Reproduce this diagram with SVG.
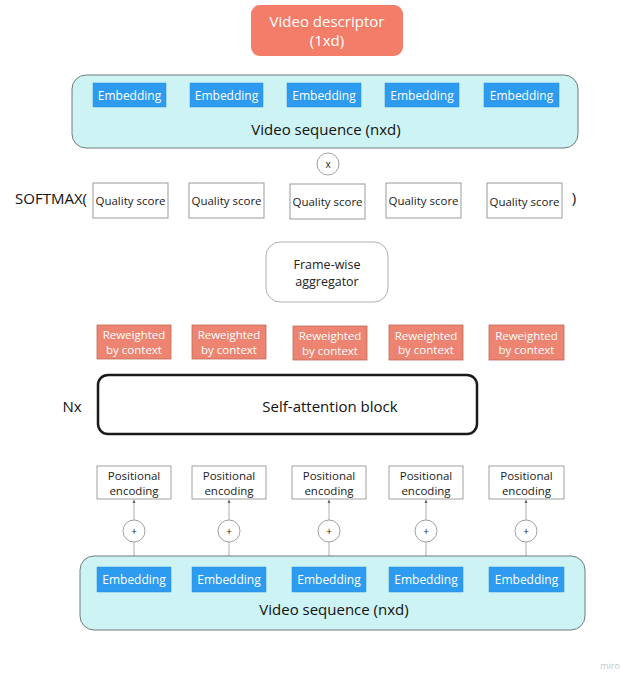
<svg xmlns="http://www.w3.org/2000/svg" width="622" height="673" viewBox="0 0 622 673">
<style>
text{font-family:"Open Sans","Liberation Sans",sans-serif;text-anchor:middle;dominant-baseline:central}
.seq{fill:#cdf3f4;stroke:#6f7a7b;stroke-width:1}
.emb{fill:#2d9bf0;stroke:#2a8fdc;stroke-width:0.5}
.embt{fill:#fff;font-size:12px}
.qs{fill:#fff;stroke:#9a9a9a;stroke-width:1}
.qst{fill:#222;font-size:11.5px}
.rw{fill:#ec8471;stroke:#c46a5b;stroke-width:0.8}
.rwt{fill:#fff;font-size:11.5px}
.pe{fill:#fff;stroke:#8a8a8a;stroke-width:0.8}
.pet{fill:#222;font-size:11.5px}
.op{fill:#fff;stroke:#888;stroke-width:0.8}
.opt{fill:#222;font-size:10px}
.lbl{fill:#111;font-size:15px}
.ln{stroke:#999;stroke-width:0.8;fill:none}
</style>
<defs>
<marker id="ah" viewBox="0 0 6 6" refX="3" refY="1" markerWidth="4" markerHeight="4" orient="auto-start-reverse" markerUnits="userSpaceOnUse">
<path d="M0,6 L3,0 L6,6 z" fill="#777"/>
</marker>
</defs>

<g id="connectors">
<line class="ln" x1="134" y1="556" x2="134" y2="542"/><line class="ln" x1="134" y1="520" x2="134" y2="500"/>
<line class="ln" x1="229" y1="556" x2="229" y2="542"/><line class="ln" x1="229" y1="520" x2="229" y2="500"/>
<line class="ln" x1="329" y1="556" x2="329" y2="542"/><line class="ln" x1="329" y1="520" x2="329" y2="500"/>
<line class="ln" x1="426" y1="556" x2="426" y2="542"/><line class="ln" x1="426" y1="520" x2="426" y2="500"/>
<line class="ln" x1="526" y1="556" x2="526" y2="542"/><line class="ln" x1="526" y1="520" x2="526" y2="500"/>
<path d="M132.5,503 L134,499.5 L135.5,503 z" fill="#666"/>
<path d="M227.5,503 L229,499.5 L230.5,503 z" fill="#666"/>
<path d="M327.5,503 L329,499.5 L330.5,503 z" fill="#666"/>
<path d="M424.5,503 L426,499.5 L427.5,503 z" fill="#666"/>
<path d="M524.5,503 L526,499.5 L527.5,503 z" fill="#666"/>
</g>

<g id="video-descriptor">
<rect x="251" y="5" width="152" height="51" rx="9" fill="#f47d69"/>
<text x="327" y="21" fill="#fff" font-size="15">Video descriptor</text>
<text x="327" y="40" fill="#fff" font-size="15">(1xd)</text>
</g>

<g id="video-sequence-top">
<rect class="seq" x="72" y="75" width="506" height="73" rx="14"/>
<rect class="emb" x="93" y="83" width="73" height="24"/><text class="embt" x="129.5" y="95">Embedding</text>
<rect class="emb" x="190" y="83" width="73" height="24"/><text class="embt" x="226.5" y="95">Embedding</text>
<rect class="emb" x="287" y="83" width="74" height="24"/><text class="embt" x="324" y="95">Embedding</text>
<rect class="emb" x="385" y="83" width="74" height="24"/><text class="embt" x="422" y="95">Embedding</text>
<rect class="emb" x="484" y="83" width="75" height="24"/><text class="embt" x="521.5" y="95">Embedding</text>
<text class="lbl" x="326" y="129">Video sequence (nxd)</text>
</g>

<g id="multiply">
<circle class="op" cx="328" cy="164" r="11"/>
<text class="opt" x="328" y="164">x</text>
</g>

<g id="softmax">
<text class="lbl" x="51" y="198" font-size="16">SOFTMAX(</text>
<text class="lbl" x="574" y="197" font-size="16">)</text>
<rect class="qs" x="93" y="183" width="75" height="35"/><text class="qst" x="130.5" y="200">Quality score</text>
<rect class="qs" x="189" y="183" width="75" height="35"/><text class="qst" x="226.5" y="200">Quality score</text>
<rect class="qs" x="290" y="184" width="75" height="35"/><text class="qst" x="327.5" y="201">Quality score</text>
<rect class="qs" x="386" y="183" width="75" height="35"/><text class="qst" x="423.5" y="200">Quality score</text>
<rect class="qs" x="487" y="183" width="75" height="35"/><text class="qst" x="524.5" y="201">Quality score</text>
</g>

<g id="aggregator">
<rect x="266" y="242" width="122" height="60" rx="14" fill="#fff" stroke="#999" stroke-width="0.8"/>
<text x="327" y="264" fill="#222" font-size="12.5">Frame-wise</text>
<text x="327" y="281" fill="#222" font-size="12.5">aggregator</text>
</g>

<g id="reweighted">
<rect class="rw" x="97" y="325" width="74" height="34"/><text class="rwt" x="134" y="334">Reweighted</text><text class="rwt" x="134" y="349">by context</text>
<rect class="rw" x="192" y="325" width="74" height="34"/><text class="rwt" x="229" y="334">Reweighted</text><text class="rwt" x="229" y="349">by context</text>
<rect class="rw" x="293" y="326" width="74" height="34"/><text class="rwt" x="330" y="335">Reweighted</text><text class="rwt" x="330" y="350">by context</text>
<rect class="rw" x="389" y="325" width="74" height="35"/><text class="rwt" x="426" y="335">Reweighted</text><text class="rwt" x="426" y="349">by context</text>
<rect class="rw" x="489" y="325" width="75" height="35"/><text class="rwt" x="526.5" y="335">Reweighted</text><text class="rwt" x="526.5" y="349">by context</text>
</g>

<g id="self-attention">
<text class="lbl" x="72" y="406">Nx</text>
<rect x="98" y="375" width="379" height="59" rx="10" fill="#fff" stroke="#1a1a1a" stroke-width="2.5"/>
<text class="lbl" x="330" y="406">Self-attention block</text>
</g>

<g id="positional">
<rect class="pe" x="97" y="466" width="74" height="33"/><text class="pet" x="134" y="475">Positional</text><text class="pet" x="134" y="490">encoding</text>
<rect class="pe" x="192" y="466" width="74" height="33"/><text class="pet" x="229" y="475">Positional</text><text class="pet" x="229" y="490">encoding</text>
<rect class="pe" x="292" y="466" width="74" height="33"/><text class="pet" x="329" y="475">Positional</text><text class="pet" x="329" y="490">encoding</text>
<rect class="pe" x="389" y="466" width="74" height="33"/><text class="pet" x="426" y="475">Positional</text><text class="pet" x="426" y="490">encoding</text>
<rect class="pe" x="489" y="466" width="75" height="33"/><text class="pet" x="526.5" y="475">Positional</text><text class="pet" x="526.5" y="490">encoding</text>
</g>

<g id="plus-ops">
<circle class="op" cx="134" cy="531" r="11"/><text class="opt" x="134" y="531">+</text>
<circle class="op" cx="229" cy="531" r="11"/><text class="opt" x="229" y="531">+</text>
<circle class="op" cx="329" cy="531" r="11"/><text class="opt" x="329" y="531">+</text>
<circle class="op" cx="426" cy="531" r="11"/><text class="opt" x="426" y="531">+</text>
<circle class="op" cx="526" cy="531" r="11"/><text class="opt" x="526" y="531">+</text>
</g>

<g id="video-sequence-bottom">
<rect class="seq" x="80" y="556" width="505" height="74" rx="14"/>
<rect class="emb" x="97" y="567" width="74" height="25"/><text class="embt" x="134" y="579.5">Embedding</text>
<rect class="emb" x="192" y="567" width="74" height="25"/><text class="embt" x="229" y="579.5">Embedding</text>
<rect class="emb" x="292" y="567" width="74" height="25"/><text class="embt" x="329" y="579.5">Embedding</text>
<rect class="emb" x="389" y="567" width="74" height="25"/><text class="embt" x="426" y="579.5">Embedding</text>
<rect class="emb" x="489" y="567" width="75" height="25"/><text class="embt" x="526.5" y="579.5">Embedding</text>
<text class="lbl" x="334" y="609">Video sequence (nxd)</text>
</g>

<text x="610" y="665" fill="#c8c8c8" font-size="9" style="text-anchor:middle">miro</text>
</svg>
